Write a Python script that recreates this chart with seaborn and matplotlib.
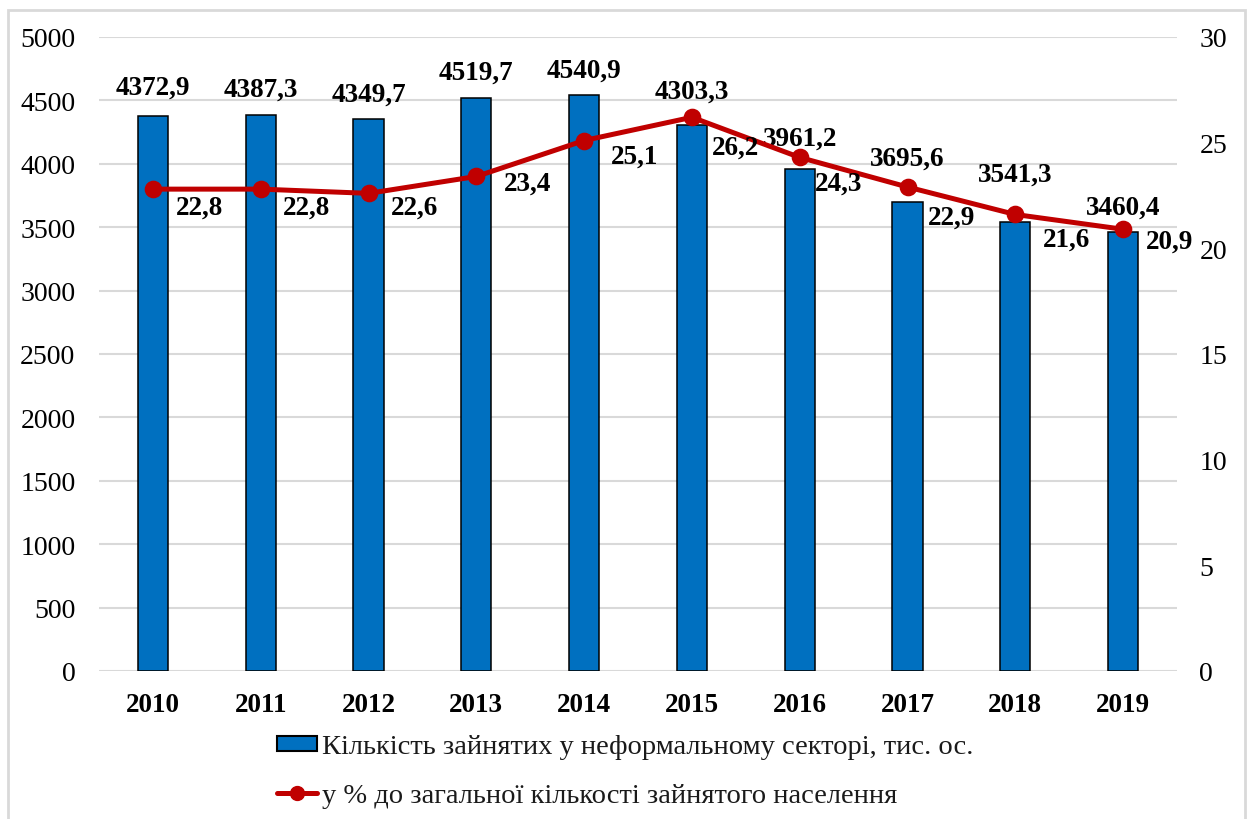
import matplotlib
matplotlib.use("Agg")
import matplotlib.pyplot as plt
from matplotlib.patches import Rectangle
from matplotlib.lines import Line2D
from matplotlib.patches import Patch
import seaborn as sns
import pandas as pd

# Data
years = ["2010", "2011", "2012", "2013", "2014", "2015", "2016", "2017", "2018", "2019"]
informal_employed = [4372.9, 4387.3, 4349.7, 4519.7, 4540.9, 4303.3, 3961.2, 3695.6, 3541.3, 3460.4]
share_of_employed = [22.8, 22.8, 22.6, 23.4, 25.1, 26.2, 24.3, 22.9, 21.6, 20.9]

bar_name = "Кількість зайнятих у неформальному секторі, тис. ос."
line_name = "у % до загальної кількості зайнятого населення"

# Label placement (pixel offsets)
bar_label_dy = [29, 25, 25, 26, 25, 34, 31, 44, 48, 25]
line_label_dx = [23, 22, 22, 28, 27, 20, 15, 20, 28, 23]
line_label_dy = [-18, -18, -14, -7, -16, -30, -26, -30, -25, -12]

BLUE = "#0070C0"
RED = "#C00000"
GRID = "#D9D9D9"

sns.set_theme(style="white")
plt.rcParams["font.family"] = ["Liberation Serif", "DejaVu Serif"]

df = pd.DataFrame({"year": years, "count": informal_employed, "share": share_of_employed})

fig = plt.figure(figsize=(12.49, 8.2), dpi=100)
ax = fig.add_axes([0.0793, 0.1805, 0.8631, 0.7732])

sns.barplot(data=df, x="year", y="count", ax=ax, color=BLUE, width=0.28,
            edgecolor="black", linewidth=1.1, saturation=1, zorder=3)

ax.set_ylim(0, 5000)
ax.set_yticks(range(0, 5001, 500))
ax.set_xlim(-0.5, len(years) - 0.5)
ax.yaxis.grid(True, color=GRID, linewidth=1.5, zorder=0)
ax.set_axisbelow(True)
for s in ax.spines.values():
    s.set_visible(False)
ax.set_xlabel("")
ax.set_ylabel("")
ax.tick_params(axis="y", length=0, pad=17, labelsize=20, colors="black")
ax.tick_params(axis="x", length=0, pad=15, labelsize=19.5, colors="black")
for t in ax.get_xticklabels():
    t.set_fontweight("bold")

for i, v in enumerate(informal_employed):
    ax.annotate(f"{v:.1f}".replace(".", ","), (i, v), xytext=(0, bar_label_dy[i]),
                textcoords="offset pixels", ha="center", va="center",
                fontsize=19.5, fontweight="bold", color="black", zorder=5)

ax2 = ax.twinx()
sns.pointplot(data=df, x="year", y="share", ax=ax2, color=RED, markers="o",
              linestyles="-", markersize=10, linewidth=3.6, zorder=4)
ax2.set_ylim(0, 30)
ax2.set_yticks(range(0, 31, 5))
ax2.set_xlim(-0.5, len(years) - 0.5)
for s in ax2.spines.values():
    s.set_visible(False)
ax2.set_xlabel("")
ax2.set_ylabel("")
ax2.grid(False)
ax2.tick_params(axis="y", length=0, pad=16, labelsize=20, colors="black")

for i, v in enumerate(share_of_employed):
    ax2.annotate(f"{v:.1f}".replace(".", ","), (i, v),
                 xytext=(line_label_dx[i], line_label_dy[i]),
                 textcoords="offset pixels", ha="left", va="center",
                 fontsize=19.5, fontweight="bold", color="black", zorder=6)

handles = [
    Patch(facecolor=BLUE, edgecolor="black", linewidth=1.5),
    Line2D([0], [0], color=RED, linewidth=3.6, marker="o", markersize=10),
]
fig.legend(handles, [bar_name, line_name], loc="center",
           bbox_to_anchor=(625 / 1249, 1 - 772 / 820), ncol=1, frameon=False,
           fontsize=20.5, handlelength=1.4, handleheight=0.45, handletextpad=0.18,
           labelspacing=0.82, alignment="left", labelcolor="#1a1a1a")

# Outer frame
fig.patches.append(Rectangle((8 / 1249, -0.01), (1245 - 8) / 1249, 1 - 11 / 820 + 0.01,
                             transform=fig.transFigure, fill=False,
                             edgecolor=GRID, linewidth=2, zorder=0))

fig.savefig("out.png", dpi=100)
